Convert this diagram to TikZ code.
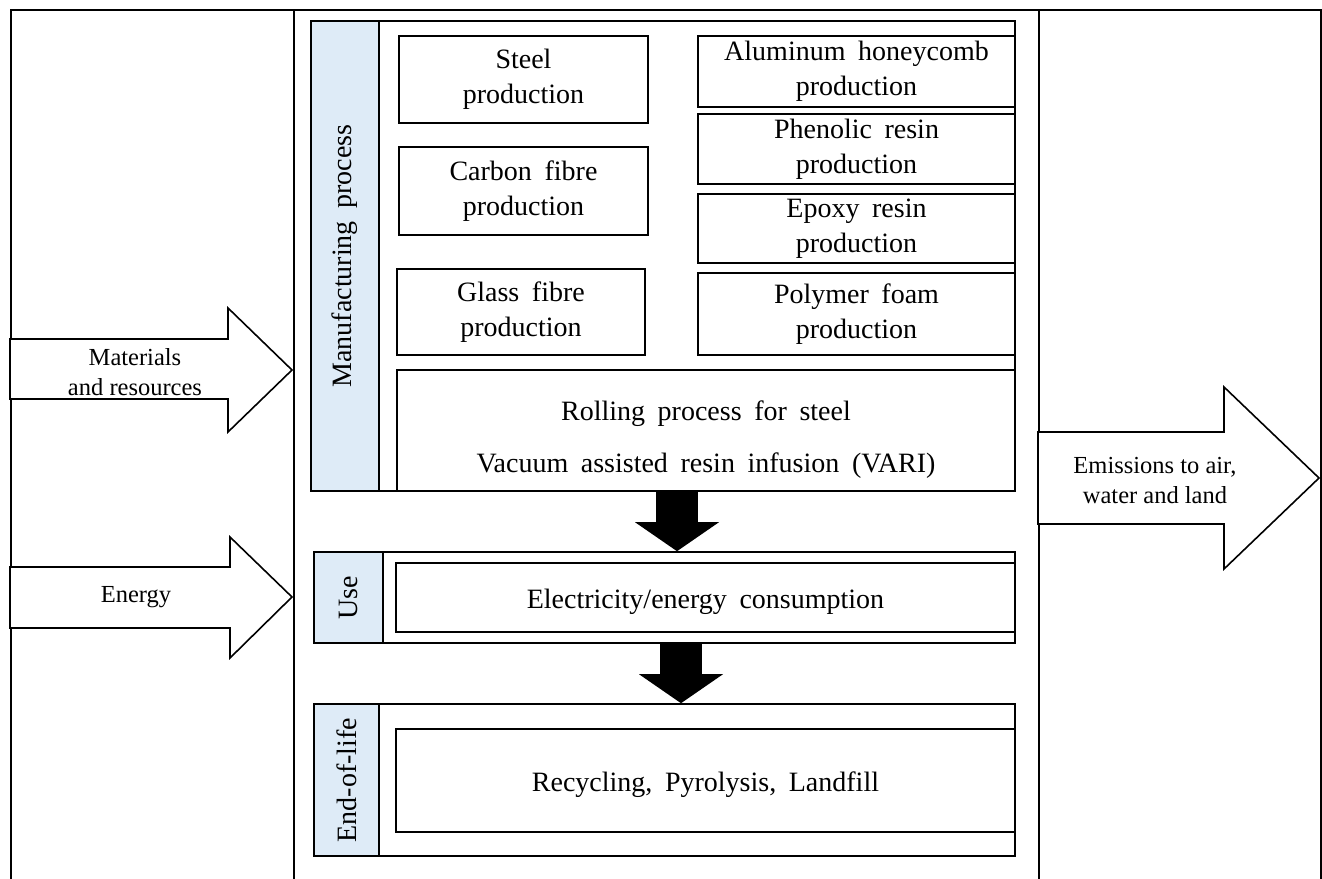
\documentclass[tikz,border=0pt]{standalone}
\usepackage{fontspec}
\setmainfont{Liberation Serif}
\usepackage{tikz}
\usetikzlibrary{%
	calc,%
	arrows.meta,%
}
\definecolor{cbluelight}{RGB}{222, 235, 247}
\tikzset{
	nodes={align=center},%
	frame/.style={%
			draw,%
			rectangle,%
			line width=1.6pt,%
			anchor=north west},%
	procbox/.style={%
			draw,%
			rectangle,%
			line width=1.6pt,%
			fill=white,%
			inner sep=0pt,%
			execute at begin node={\rule{0pt}{28pt}},%
			font={\fontsize{28}{35}\selectfont\spaceskip=0.45em}},%
	stagebox/.style={%
			draw,%
			rectangle,%
			line width=1.6pt,%
			fill=white},%
	stagelabel/.style={%
			draw,%
			rectangle,%
			line width=1.6pt,%
			fill=cbluelight,%
			inner sep=0pt,%
			font={\fontsize{28}{35}\selectfont\spaceskip=0.45em}},%
	hollowarrow/.style={%
			draw,%
			line width=1.6pt,%
			fill=white,%
			line join=miter},%
	sidetext/.style={%
			font={\fontsize{24.5}{30}\selectfont}},%
	flowarrow/.style={%
			line width=42pt,%
			-{Triangle[length=29pt, width=84pt, line width=0pt]}},%
}

\begin{document}
\begin{tikzpicture}[x=1pt, y=-1pt]%
	\clip (0,0) rectangle (1322,878);

	% outer frames
	\node[frame, minimum width=283pt, minimum height=900pt] (inflow) at (10,9) {};
	\node[frame, minimum width=745pt, minimum height=900pt] (system) at (293,9) {};
	\node[frame, minimum width=282pt, minimum height=900pt] (outflow) at (1038,9) {};

	% manufacturing stage
	\node[stagebox, minimum width=704pt, minimum height=470pt] (manu) at (663,256) {};
	\node[stagelabel, minimum width=68pt, minimum height=470pt] (manulab) at (345,256) {\rotatebox{90}{Manufacturing process}};
	\node[procbox, minimum width=249pt, minimum height=87pt] (steel) at (523.5,79.5) {Steel\\production};
	\node[procbox, minimum width=249pt, minimum height=88pt] (carbon) at (523.5,191) {Carbon fibre\\production};
	\node[procbox, minimum width=248pt, minimum height=86pt] (glass) at (521,312) {Glass fibre\\production};
	\node[procbox, minimum width=317pt, minimum height=71pt] (alu) at (856.5,71.5) {Aluminum honeycomb\\production};
	\node[procbox, minimum width=317pt, minimum height=70pt] (phenolic) at (856.5,149) {Phenolic resin\\production};
	\node[procbox, minimum width=317pt, minimum height=69pt] (epoxy) at (856.5,228.5) {Epoxy resin\\production};
	\node[procbox, minimum width=317pt, minimum height=82pt] (foam) at (856.5,314) {Polymer foam\\production};
	\node[procbox, minimum width=618pt, minimum height=121pt] (rolling) at (706,430.5) {\rule{0pt}{38pt}Rolling process for steel\\[17pt]Vacuum assisted resin infusion (VARI)};

	% use stage
	\node[stagebox, minimum width=701pt, minimum height=91pt] (use) at (664.5,597.5) {};
	\node[stagelabel, minimum width=69pt, minimum height=91pt] (uselab) at (348.5,597.5) {\rotatebox{90}{Use}};
	\node[procbox, minimum width=619pt, minimum height=69pt] (elec) at (705.5,597.5) {Electricity/energy consumption};

	% end-of-life stage
	\node[stagebox, minimum width=701pt, minimum height=152pt] (eol) at (664.5,780) {};
	\node[stagelabel, minimum width=65pt, minimum height=152pt] (eollab) at (346.5,780) {\rotatebox{90}{End-of-life}};
	\node[procbox, minimum width=619pt, minimum height=103pt] (recyc) at (705.5,780.5) {Recycling, Pyrolysis, Landfill};

	% flows between stages
	\coordinate (flowa) at ($(manu.south)+(14,0)$);
	\coordinate (flowb) at ($(use.south)+(16.5,0)$);
	\draw[flowarrow] (flowa) to (flowa |- use.north);
	\draw[flowarrow] (flowb) to (flowb |- eol.north);

	% inputs and outputs
	\draw[hollowarrow] (10,339) -- (228,339) -- (228,308) -- (292,370) -- (228,432) -- (228,399) -- (10,399) -- cycle;
	\draw[hollowarrow] (10,567) -- (230,567) -- (230,537) -- (292,597) -- (230,658) -- (230,628) -- (10,628) -- cycle;
	\draw[hollowarrow] (1038,432) -- (1224,432) -- (1224,387) -- (1319,478) -- (1224,569) -- (1224,524) -- (1038,524) -- cycle;
	\node[sidetext] (materials) at (135,372) {Materials\\and resources};
	\node[sidetext] (energy) at (136,597) {Energy};
	\node[sidetext] (emissions) at (1155,481) {Emissions to air,\\water and land};
\end{tikzpicture}
\end{document}
